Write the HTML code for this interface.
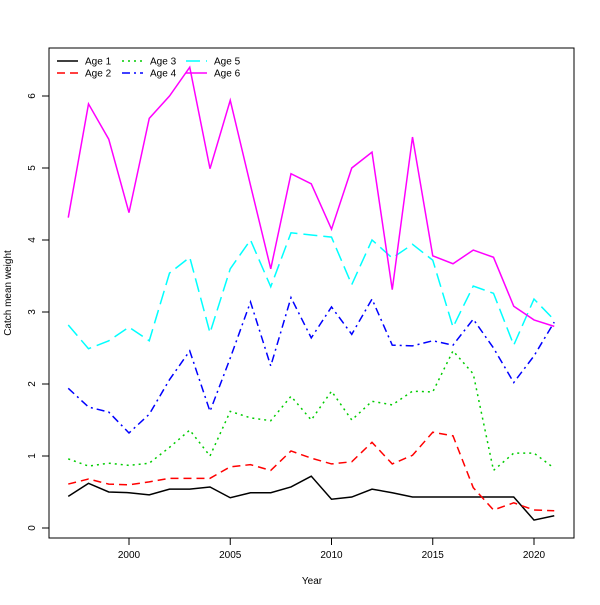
<!DOCTYPE html>
<html><head><meta charset="utf-8"><style>
body{margin:0;background:#fff}
text{font-family:"Liberation Sans",sans-serif;font-size:10px;fill:#000}
</style></head><body>
<svg id="c" width="600" height="600" xmlns="http://www.w3.org/2000/svg"></svg>
<script>
const years=[1997,1998,1999,2000,2001,2002,2003,2004,2005,2006,2007,2008,2009,2010,2011,2012,2013,2014,2015,2016,2017,2018,2019,2020,2021];
const age1=[0.44,0.62,0.5,0.49,0.46,0.54,0.54,0.57,0.42,0.49,0.49,0.57,0.72,0.4,0.43,0.54,0.49,0.43,0.43,0.43,0.43,0.43,0.43,0.11,0.17];
const age2=[0.61,0.68,0.61,0.6,0.64,0.69,0.69,0.69,0.85,0.88,0.8,1.07,0.97,0.89,0.92,1.19,0.89,1.01,1.33,1.28,0.56,0.25,0.35,0.25,0.24];
const age3=[0.96,0.86,0.9,0.87,0.9,1.12,1.36,1.0,1.62,1.53,1.49,1.83,1.5,1.9,1.5,1.76,1.71,1.9,1.89,2.46,2.14,0.8,1.04,1.04,0.83];
const age4=[1.94,1.68,1.61,1.32,1.58,2.06,2.46,1.62,2.36,3.14,2.25,3.2,2.64,3.07,2.69,3.18,2.54,2.53,2.6,2.54,2.9,2.5,2.02,2.39,2.86];
const age5=[2.82,2.49,2.6,2.79,2.6,3.54,3.76,2.71,3.6,4.0,3.35,4.1,4.07,4.04,3.38,4.0,3.75,3.94,3.72,2.79,3.36,3.26,2.54,3.18,2.89];
const age6=[4.31,5.89,5.4,4.38,5.69,6.0,6.4,4.99,5.94,4.76,3.6,4.92,4.78,4.15,5.0,5.22,3.31,5.43,3.78,3.67,3.86,3.76,3.08,2.89,2.8];
const xTicks=[2000,2005,2010,2015,2020];
const yTicks=[0,1,2,3,4,5,6];
const seriesNames=["Age 1","Age 2","Age 3","Age 4","Age 5","Age 6"];
const svg=document.getElementById('c');const NS="http://www.w3.org/2000/svg";
const X=v=>129+(v-2000)*20.25;
const Y=v=>528-v*72;
function el(t,a,p){const e=document.createElementNS(NS,t);for(const k in a)e.setAttribute(k,a[k]);(p||svg).appendChild(e);return e;}
const box=el('rect',{x:49,y:48,width:525,height:490,fill:'none',stroke:'#000','stroke-width':1});


const styles=[{c:'#000',d:''},{c:'#f00',d:'8,5'},{c:'#0c0',d:'2,4'},{c:'#00f',d:'8,4,2,4'},{c:'#0ff',d:'14,6'},{c:'#f0f',d:''}];
const data=[age1,age2,age3,age4,age5,age6];
data.forEach((s,i)=>{
 const p=el('polyline',{points:s.map((v,j)=>X(years[j])+','+Y(v)).join(' '),fill:'none',stroke:styles[i].c,'stroke-width':1.5,'stroke-dasharray':styles[i].d});
 
 
});
xTicks.forEach(t=>{
 const l=el('line',{x1:X(t),x2:X(t),y1:538,y2:545,stroke:'#000'});
 
 
 const tx=el('text',{x:X(t),y:558,'text-anchor':'middle'});tx.textContent=t;
 
 
});
el('line',{x1:X(2000),x2:X(2020),y1:538,y2:538,stroke:'#000'});
yTicks.forEach(t=>{
 const l=el('line',{x1:42,x2:49,y1:Y(t),y2:Y(t),stroke:'#000'});
 
 
 const tx=el('text',{x:35,y:Y(t),'text-anchor':'middle',transform:'rotate(-90 35 '+Y(t)+')'});tx.textContent=t;
 
 
});
const xt=el('text',{x:312,y:584,'text-anchor':'middle'});xt.textContent='Year';


const yt=el('text',{x:11,y:293,'text-anchor':'middle',transform:'rotate(-90 11 293)'});yt.textContent='Catch mean weight';


const lx=[57,122,186],ly=[61,73];
seriesNames.forEach((n,i)=>{
 const col=Math.floor(i/2),row=i%2;
 const g=el('g',{});
 
 
 el('line',{x1:lx[col],x2:lx[col]+21,y1:ly[row],y2:ly[row],stroke:styles[i].c,'stroke-width':1.5,'stroke-dasharray':styles[i].d},g);
 const t=el('text',{x:lx[col]+28,y:ly[row]+3.5},g);t.textContent=n;
});
</script>
</body></html>
